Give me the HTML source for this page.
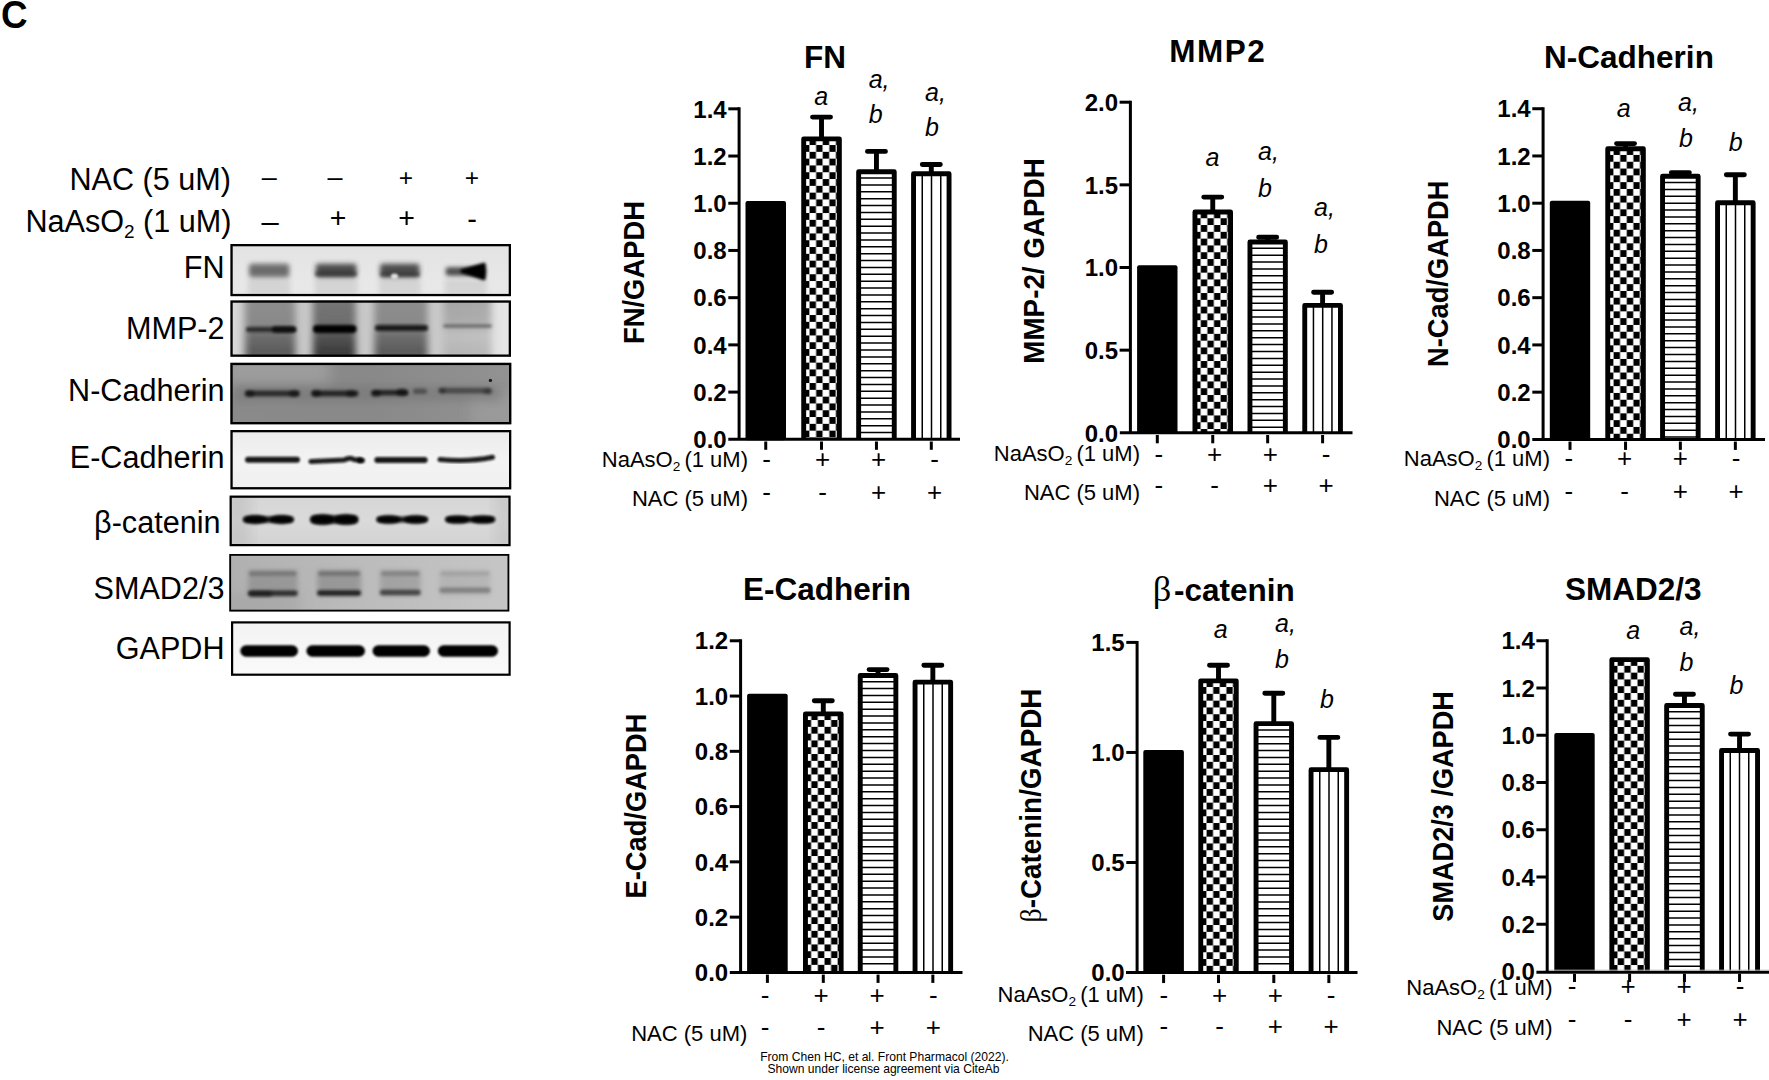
<!DOCTYPE html>
<html lang="en"><head><meta charset="utf-8"><title>Figure C</title>
<style>html,body{margin:0;padding:0;background:#fff;}body{width:1769px;height:1080px;overflow:hidden;}svg{display:block;font-family:"Liberation Sans", sans-serif;fill:#000;}text{fill:#000;}</style>
</head><body>
<svg width="1769" height="1080" viewBox="0 0 1769 1080">
<defs>
<pattern id="chk" width="13.2" height="13.6" patternUnits="userSpaceOnUse"><rect width="13.2" height="13.6" fill="#fff"/><rect x="3.4" y="6.8" width="6.4" height="6.8" fill="#000"/><rect x="-3.2" y="0" width="6.4" height="6.8" fill="#000"/><rect x="10" y="0" width="6.4" height="6.8" fill="#000"/></pattern>
<filter id="b1" x="-30%" y="-100%" width="160%" height="300%"><feGaussianBlur stdDeviation="0.6"/></filter>
<filter id="b15" x="-30%" y="-100%" width="160%" height="300%"><feGaussianBlur stdDeviation="1.2"/></filter>
<filter id="b2" x="-30%" y="-100%" width="160%" height="300%"><feGaussianBlur stdDeviation="1.6"/></filter>
<filter id="b25" x="-30%" y="-100%" width="160%" height="300%"><feGaussianBlur stdDeviation="2.1"/></filter>
<filter id="b3" x="-30%" y="-100%" width="160%" height="300%"><feGaussianBlur stdDeviation="2.6"/></filter>
<filter id="b4" x="-30%" y="-100%" width="160%" height="300%"><feGaussianBlur stdDeviation="4"/></filter>
<filter id="b6" x="-30%" y="-100%" width="160%" height="300%"><feGaussianBlur stdDeviation="7"/></filter>
<filter id="bh" x="-30%" y="-100%" width="160%" height="300%"><feGaussianBlur stdDeviation="3.5 2"/></filter>
<linearGradient id="bgFN" x1="0" y1="0" x2="0" y2="1"><stop offset="0" stop-color="#e3e3e3"/><stop offset="1" stop-color="#e9e9e9"/></linearGradient>
<linearGradient id="lnA" x1="0" y1="0" x2="0" y2="1"><stop offset="0" stop-color="#8c8c8c"/><stop offset="0.45" stop-color="#858585"/><stop offset="0.6" stop-color="#6a6a6a"/><stop offset="0.85" stop-color="#555"/><stop offset="1" stop-color="#666"/></linearGradient>
<linearGradient id="lnB" x1="0" y1="0" x2="0" y2="1"><stop offset="0" stop-color="#777"/><stop offset="0.45" stop-color="#6c6c6c"/><stop offset="0.6" stop-color="#555"/><stop offset="0.85" stop-color="#3c3c3c"/><stop offset="1" stop-color="#4a4a4a"/></linearGradient>
<linearGradient id="lnC" x1="0" y1="0" x2="0" y2="1"><stop offset="0" stop-color="#999"/><stop offset="0.4" stop-color="#a5a5a5"/><stop offset="0.6" stop-color="#bbb"/><stop offset="0.85" stop-color="#b0b0b0"/><stop offset="1" stop-color="#b8b8b8"/></linearGradient>
<linearGradient id="bgMMP" x1="0" y1="0" x2="1" y2="0"><stop offset="0" stop-color="#dcdcdc"/><stop offset="0.06" stop-color="#c6c6c6"/><stop offset="0.8" stop-color="#cacaca"/><stop offset="0.95" stop-color="#e2e2e2"/><stop offset="1" stop-color="#e8e8e8"/></linearGradient>
<linearGradient id="bgNC" x1="0" y1="0" x2="1" y2="0"><stop offset="0" stop-color="#8a8a8a"/><stop offset="0.5" stop-color="#898989"/><stop offset="1" stop-color="#929292"/></linearGradient>
<linearGradient id="bgEC" x1="0" y1="0" x2="0" y2="1"><stop offset="0" stop-color="#ebebeb"/><stop offset="0.5" stop-color="#f3f3f3"/><stop offset="1" stop-color="#f0f0f0"/></linearGradient>
<linearGradient id="bgBC" x1="0" y1="0" x2="0" y2="1"><stop offset="0" stop-color="#d6d6d6"/><stop offset="0.5" stop-color="#dadada"/><stop offset="1" stop-color="#d2d2d2"/></linearGradient>
<linearGradient id="bgSM" x1="0" y1="0" x2="1" y2="0"><stop offset="0" stop-color="#b0b0b0"/><stop offset="0.5" stop-color="#bcbcbc"/><stop offset="1" stop-color="#c6c6c6"/></linearGradient>
<linearGradient id="bgGA" x1="0" y1="0" x2="0" y2="1"><stop offset="0" stop-color="#f3f3f3"/><stop offset="1" stop-color="#fafafa"/></linearGradient>
</defs>
<rect width="1769" height="1080" fill="#fff"/>
<text transform="translate(1.1 27.6) scale(0.96 1)" font-size="38.3" font-weight="bold">C</text>
<g id="blot-labels" font-size="30.6">
<text x="231" y="189.6" text-anchor="end">NAC (5 uM)</text>
<text x="231.5" y="231.5" font-size="30.6" text-anchor="end">NaAsO<tspan font-size="18.97" dy="6.12">2</tspan><tspan dy="-6.12" dx="-0"> (1 uM)</tspan></text>
<text x="224.5" y="277.8" text-anchor="end">FN</text>
<text x="224.5" y="339" text-anchor="end">MMP-2</text>
<text x="224.5" y="401" text-anchor="end">N-Cadherin</text>
<text x="224.5" y="468.2" text-anchor="end">E-Cadherin</text>
<text x="224.5" y="598.5" text-anchor="end">SMAD2/3</text>
<text x="224.5" y="658.9" text-anchor="end">GAPDH</text>
<text x="220.5" y="532.7" text-anchor="end">β-catenin</text>
</g>
<g id="blot-signs" text-anchor="middle">
<text x="269.2" y="186.2" font-size="27">–</text>
<text x="335" y="186.2" font-size="27">–</text>
<text x="406" y="185.6" font-size="24.5">+</text>
<text x="471.9" y="185.6" font-size="24.5">+</text>
<text x="270.2" y="231.7" font-size="31">–</text>
<text x="338" y="227.4" font-size="28.5">+</text>
<text x="406.5" y="227.4" font-size="28.5">+</text>
<text x="472" y="229.3" font-size="29">-</text>
</g>
<g id="blot1">
<clipPath id="bc1"><rect x="230.4" y="244" width="280.6" height="52.2"/></clipPath>
<rect x="230.4" y="244" width="280.6" height="52.2" fill="url(#bgFN)"/>
<g clip-path="url(#bc1)">
<rect x="248" y="279" width="42.3" height="17" fill="#888" opacity="0.2" filter="url(#b3)"/>
<rect x="249" y="263.75" width="40.3" height="13.5" rx="3" fill="#4a4a4a" opacity="0.78" filter="url(#b3)"/>
<rect x="314.7" y="279" width="42.8" height="17" fill="#888" opacity="0.2" filter="url(#b3)"/>
<rect x="315.7" y="263.75" width="40.8" height="13.5" rx="3" fill="#333" opacity="0.85" filter="url(#b3)"/>
<rect x="379" y="279" width="41.5" height="17" fill="#888" opacity="0.2" filter="url(#b3)"/>
<rect x="380" y="263.75" width="39.5" height="13.5" rx="3" fill="#333" opacity="0.85" filter="url(#b3)"/>
<rect x="444.6" y="279" width="41.9" height="17" fill="#888" opacity="0.2" filter="url(#b3)"/>
<rect x="445.6" y="267.35" width="39.9" height="8.5" rx="3" fill="#2c2c2c" opacity="0.82" filter="url(#b25)"/>
<rect x="315" y="271.5" width="42" height="5" rx="2.5" fill="#222" opacity="0.5" filter="url(#b2)"/>
<rect x="380" y="272" width="40" height="5" rx="2.5" fill="#222" opacity="0.45" filter="url(#b2)"/>
<ellipse cx="394.5" cy="276.3" rx="3.6" ry="2.8" fill="#eee" opacity="0.9" filter="url(#b15)"/>
<path d="M462 271L484 264.5V278.5Z" fill="#000" stroke="#000" stroke-width="3.5" stroke-linejoin="round" filter="url(#b2)"/>
</g>
<rect x="231.55" y="245.15" width="278.3" height="49.9" fill="none" stroke="#000" stroke-width="2.3"/>
</g>
<g id="blot2">
<clipPath id="bc2"><rect x="230.4" y="300.4" width="280.6" height="56.4"/></clipPath>
<rect x="230.4" y="300.4" width="280.6" height="56.4" fill="url(#bgMMP)"/>
<g clip-path="url(#bc2)">
<rect x="245.3" y="296" width="50.1" height="66" fill="url(#lnA)" opacity="0.95" filter="url(#bh)"/>
<rect x="312.9" y="296" width="42.8" height="66" fill="url(#lnB)" opacity="1" filter="url(#bh)"/>
<rect x="374.3" y="296" width="53.3" height="66" fill="url(#lnA)" opacity="0.95" filter="url(#bh)"/>
<rect x="443.5" y="296" width="47.5" height="66" fill="url(#lnC)" opacity="0.8" filter="url(#bh)"/>
<rect x="246" y="326.9" width="50" height="5" rx="2.5" fill="#1a1a1a" opacity="0.85" filter="url(#b2)"/>
<rect x="272" y="326.35" width="24" height="6.5" rx="3.25" fill="#000" opacity="0.7" filter="url(#b2)"/>
<rect x="313" y="325" width="43.5" height="8" rx="4" fill="#000" opacity="1" filter="url(#b2)"/>
<rect x="375" y="325" width="53" height="6" rx="3" fill="#0a0a0a" opacity="0.9" filter="url(#b2)"/>
<rect x="443" y="324.25" width="49" height="3.5" rx="1.75" fill="#555" opacity="0.75" filter="url(#b2)"/>
</g>
<rect x="231.55" y="301.55" width="278.3" height="54.1" fill="none" stroke="#000" stroke-width="2.3"/>
</g>
<g id="blot3">
<clipPath id="bc3"><rect x="230.4" y="362.8" width="280.9" height="61.5"/></clipPath>
<rect x="230.4" y="362.8" width="280.9" height="61.5" fill="url(#bgNC)"/>
<g clip-path="url(#bc3)">
<rect x="225" y="355" width="105" height="30" fill="#b5b5b5" opacity="0.45" filter="url(#b6)"/>
<rect x="470" y="395" width="50" height="35" fill="#a8a8a8" opacity="0.4" filter="url(#b6)"/>
<rect x="236" y="386" width="264" height="15" fill="#666" opacity="0.35" filter="url(#b4)"/>
<rect x="245.5" y="390.6" width="54.2" height="5.6" rx="2.8" fill="#151515" opacity="0.8" filter="url(#b2)"/>
<rect x="311.9" y="390.6" width="46.4" height="5.6" rx="2.8" fill="#151515" opacity="0.85" filter="url(#b2)"/>
<rect x="371.6" y="390" width="36.7" height="5.6" rx="2.8" fill="#151515" opacity="0.85" filter="url(#b2)"/>
<rect x="413" y="388.5" width="14" height="5.6" rx="2.8" fill="#333" opacity="0.6" filter="url(#b2)"/>
<rect x="439" y="387.8" width="52.3" height="5.6" rx="2.8" fill="#2a2a2a" opacity="0.62" filter="url(#b2)"/>
<ellipse cx="249.5" cy="393.6" rx="4.8" ry="3.2" fill="#000" opacity="0.48" filter="url(#b2)"/>
<ellipse cx="294" cy="393.6" rx="5.1" ry="3.4" fill="#000" opacity="0.45" filter="url(#b2)"/>
<ellipse cx="316" cy="393.4" rx="5.1" ry="3.4" fill="#000" opacity="0.48" filter="url(#b2)"/>
<ellipse cx="351" cy="393.6" rx="5.1" ry="3.4" fill="#000" opacity="0.42" filter="url(#b2)"/>
<ellipse cx="376" cy="393.6" rx="4.8" ry="3.2" fill="#000" opacity="0.48" filter="url(#b2)"/>
<ellipse cx="402" cy="392.4" rx="5.7" ry="3.8" fill="#000" opacity="0.51" filter="url(#b2)"/>
<ellipse cx="442" cy="390.6" rx="3.9" ry="2.6" fill="#000" opacity="0.3" filter="url(#b2)"/>
<ellipse cx="488" cy="391.5" rx="4.5" ry="3" fill="#000" opacity="0.27" filter="url(#b2)"/>
<circle cx="490.4" cy="380.4" r="1.7" fill="#1a1a1a" filter="url(#b1)"/>
</g>
<rect x="231.55" y="363.95" width="278.6" height="59.2" fill="none" stroke="#000" stroke-width="2.3"/>
</g>
<g id="blot4">
<clipPath id="bc4"><rect x="230.4" y="430" width="280.9" height="59.4"/></clipPath>
<rect x="230.4" y="430" width="280.9" height="59.4" fill="url(#bgEC)"/>
<g clip-path="url(#bc4)">
<rect x="245" y="456.7" width="55" height="6" rx="3" fill="#111" opacity="0.95" filter="url(#b15)"/>
<path d="M311 461.6L344 460Q350.5 456.6 354 459.6L362.5 460.4" fill="none" stroke="#111" stroke-width="5" stroke-linecap="round" opacity="0.93" filter="url(#b15)"/>
<circle cx="360" cy="460.3" r="3" fill="#000" opacity="0.8" filter="url(#b15)"/>
<rect x="374.3" y="457" width="53.4" height="6" rx="3" fill="#111" opacity="0.95" filter="url(#b15)"/>
<path d="M440 459.4Q468 462.2 492.5 457.2" fill="none" stroke="#111" stroke-width="5" stroke-linecap="round" opacity="0.93" filter="url(#b15)"/>
</g>
<rect x="231.55" y="431.15" width="278.6" height="57.1" fill="none" stroke="#000" stroke-width="2.3"/>
</g>
<g id="blot5">
<clipPath id="bc5"><rect x="229.6" y="495.6" width="281" height="50.6"/></clipPath>
<rect x="229.6" y="495.6" width="281" height="50.6" fill="url(#bgBC)"/>
<g clip-path="url(#bc5)">
<rect x="225" y="490" width="25" height="60" fill="#aaa" opacity="0.35" filter="url(#b6)"/>
<rect x="495" y="490" width="20" height="60" fill="#aaa" opacity="0.3" filter="url(#b6)"/>
<rect x="243.4" y="516.6" width="50.1" height="5.8" rx="2.9" fill="#0c0c0c" opacity="0.95" filter="url(#b2)"/>
<ellipse cx="255.4" cy="519.5" rx="12" ry="4.4" fill="#050505" opacity="0.9" filter="url(#b2)"/>
<ellipse cx="281.5" cy="519.5" rx="12" ry="4.4" fill="#050505" opacity="0.9" filter="url(#b2)"/>
<rect x="310.5" y="515.4" width="47.5" height="8.2" rx="4.1" fill="#0c0c0c" opacity="0.95" filter="url(#b2)"/>
<ellipse cx="322.5" cy="519.5" rx="12" ry="5.3" fill="#050505" opacity="0.9" filter="url(#b2)"/>
<ellipse cx="346" cy="519.5" rx="12" ry="5.3" fill="#050505" opacity="0.9" filter="url(#b2)"/>
<rect x="376.7" y="516.7" width="51" height="5.6" rx="2.8" fill="#0c0c0c" opacity="0.95" filter="url(#b2)"/>
<ellipse cx="388.7" cy="519.5" rx="12" ry="4.2" fill="#050505" opacity="0.9" filter="url(#b2)"/>
<ellipse cx="415.7" cy="519.5" rx="12" ry="4.2" fill="#050505" opacity="0.9" filter="url(#b2)"/>
<rect x="445.5" y="516.8" width="49.3" height="5.4" rx="2.7" fill="#0c0c0c" opacity="0.95" filter="url(#b2)"/>
<ellipse cx="457.5" cy="519.5" rx="12" ry="4.1" fill="#050505" opacity="0.9" filter="url(#b2)"/>
<ellipse cx="482.8" cy="519.5" rx="12" ry="4.1" fill="#050505" opacity="0.9" filter="url(#b2)"/>
</g>
<rect x="230.7" y="496.7" width="278.8" height="48.4" fill="none" stroke="#000" stroke-width="2.2"/>
</g>
<g id="blot6">
<clipPath id="bc6"><rect x="229.3" y="554" width="280" height="57.5"/></clipPath>
<rect x="229.3" y="554" width="280" height="57.5" fill="url(#bgSM)"/>
<g clip-path="url(#bc6)">
<rect x="225" y="595" width="75" height="20" fill="#999" opacity="0.4" filter="url(#b6)"/>
<rect x="248" y="570" width="49.6" height="26" fill="#7a7a7a" opacity="0.47" filter="url(#b3)"/>
<rect x="249" y="571" width="47.6" height="5" rx="2.5" fill="#555" opacity="0.47" filter="url(#b2)"/>
<rect x="248" y="590.45" width="49.6" height="5.5" rx="2.75" fill="#1c1c1c" opacity="0.85" filter="url(#b2)"/>
<rect x="317.2" y="570" width="43.8" height="26" fill="#7a7a7a" opacity="0.52" filter="url(#b3)"/>
<rect x="318.2" y="571" width="41.8" height="5" rx="2.5" fill="#555" opacity="0.52" filter="url(#b2)"/>
<rect x="317.2" y="590.25" width="43.8" height="5.5" rx="2.75" fill="#1c1c1c" opacity="0.95" filter="url(#b2)"/>
<rect x="379.9" y="570" width="40.7" height="26" fill="#7a7a7a" opacity="0.39" filter="url(#b3)"/>
<rect x="380.9" y="571" width="38.7" height="5" rx="2.5" fill="#555" opacity="0.39" filter="url(#b2)"/>
<rect x="379.9" y="589.65" width="40.7" height="5.5" rx="2.75" fill="#1c1c1c" opacity="0.7" filter="url(#b2)"/>
<rect x="439.3" y="570" width="51.3" height="26" fill="#7a7a7a" opacity="0.18" filter="url(#b3)"/>
<rect x="440.3" y="571" width="49.3" height="5" rx="2.5" fill="#555" opacity="0.18" filter="url(#b2)"/>
<rect x="439.3" y="587.55" width="51.3" height="5.5" rx="2.75" fill="#1c1c1c" opacity="0.33" filter="url(#b2)"/>
<rect x="249" y="591.25" width="23" height="5.5" rx="2.75" fill="#111" opacity="0.5" filter="url(#b2)"/>
</g>
<rect x="230.2" y="554.9" width="278.2" height="55.7" fill="none" stroke="#000" stroke-width="1.8"/>
</g>
<g id="blot7">
<clipPath id="bc7"><rect x="231" y="621.3" width="279.7" height="54.5"/></clipPath>
<rect x="231" y="621.3" width="279.7" height="54.5" fill="url(#bgGA)"/>
<g clip-path="url(#bc7)">
<rect x="240.3" y="645.25" width="57.7" height="11.5" rx="5.75" fill="#000" opacity="1" filter="url(#b15)"/>
<rect x="306.4" y="645.25" width="58.6" height="11.5" rx="5.75" fill="#000" opacity="1" filter="url(#b15)"/>
<rect x="372.5" y="645.25" width="57.5" height="11.5" rx="5.75" fill="#000" opacity="1" filter="url(#b15)"/>
<rect x="437.8" y="645.25" width="60.2" height="11.5" rx="5.75" fill="#000" opacity="1" filter="url(#b15)"/>
</g>
<rect x="232.1" y="622.4" width="277.5" height="52.3" fill="none" stroke="#000" stroke-width="2.2"/>
</g>
<g id="fn">
<rect x="745.5" y="200.9" width="40.5" height="239.4" rx="2" fill="#000"/>
<path d="M765.75 441.5V449.8" stroke="#000" stroke-width="3" fill="none"/>
<g transform="translate(806.15 145.05)"><rect x="-2.45" y="-6.2" width="35.65" height="300.45" fill="url(#chk)"/></g>
<path d="M803.7 439.3V138.85H839.35V439.3" fill="none" stroke="#000" stroke-width="4.9" stroke-linejoin="round"/>
<path d="M821.52 137.4V117.1M812.52 117.1H830.52" fill="none" stroke="#000" stroke-width="4.9" stroke-linecap="round"/>
<path d="M821.52 441.5V449.8" stroke="#000" stroke-width="3" fill="none"/>
<path d="M860.1 178H892.8M860.1 184.88H892.8M860.1 191.76H892.8M860.1 198.64H892.8M860.1 205.52H892.8M860.1 212.4H892.8M860.1 219.28H892.8M860.1 226.16H892.8M860.1 233.04H892.8M860.1 239.92H892.8M860.1 246.8H892.8M860.1 253.68H892.8M860.1 260.56H892.8M860.1 267.44H892.8M860.1 274.32H892.8M860.1 281.2H892.8M860.1 288.08H892.8M860.1 294.96H892.8M860.1 301.84H892.8M860.1 308.72H892.8M860.1 315.6H892.8M860.1 322.48H892.8M860.1 329.36H892.8M860.1 336.24H892.8M860.1 343.12H892.8M860.1 350H892.8M860.1 356.88H892.8M860.1 363.76H892.8M860.1 370.64H892.8M860.1 377.52H892.8M860.1 384.4H892.8M860.1 391.28H892.8M860.1 398.16H892.8M860.1 405.04H892.8M860.1 411.92H892.8M860.1 418.8H892.8M860.1 425.68H892.8M860.1 432.56H892.8" stroke="#000" stroke-width="1.5" fill="none"/>
<path d="M858.65 439.3V171.75H894.25V439.3" fill="none" stroke="#000" stroke-width="4.9" stroke-linejoin="round"/>
<path d="M876.45 170.3V151.4M867.45 151.4H885.45" fill="none" stroke="#000" stroke-width="4.9" stroke-linecap="round"/>
<path d="M876.45 441.5V449.8" stroke="#000" stroke-width="3" fill="none"/>
<path d="M922.25 175.2V439.3M931.5 175.2V439.3M940.75 175.2V439.3" stroke="#000" stroke-width="1.5" fill="none"/>
<path d="M913.55 439.3V173.75H949.05V439.3" fill="none" stroke="#000" stroke-width="4.9" stroke-linejoin="round"/>
<path d="M931.3 172.3V164.5M922.3 164.5H940.3" fill="none" stroke="#000" stroke-width="4.9" stroke-linecap="round"/>
<path d="M931.3 441.5V449.8" stroke="#000" stroke-width="3" fill="none"/>
<path d="M739.1 107.33V439.3" stroke="#000" stroke-width="3" fill="none"/>
<path d="M728.3 439.3H960" stroke="#000" stroke-width="3" fill="none"/>
<text x="726.7" y="448" font-size="24" font-weight="bold" text-anchor="end">0.0</text>
<path d="M728.3 392.09H739.1" stroke="#000" stroke-width="3" fill="none"/>
<text x="726.7" y="400.79" font-size="24" font-weight="bold" text-anchor="end">0.2</text>
<path d="M728.3 344.88H739.1" stroke="#000" stroke-width="3" fill="none"/>
<text x="726.7" y="353.58" font-size="24" font-weight="bold" text-anchor="end">0.4</text>
<path d="M728.3 297.67H739.1" stroke="#000" stroke-width="3" fill="none"/>
<text x="726.7" y="306.37" font-size="24" font-weight="bold" text-anchor="end">0.6</text>
<path d="M728.3 250.46H739.1" stroke="#000" stroke-width="3" fill="none"/>
<text x="726.7" y="259.16" font-size="24" font-weight="bold" text-anchor="end">0.8</text>
<path d="M728.3 203.25H739.1" stroke="#000" stroke-width="3" fill="none"/>
<text x="726.7" y="211.95" font-size="24" font-weight="bold" text-anchor="end">1.0</text>
<path d="M728.3 156.04H739.1" stroke="#000" stroke-width="3" fill="none"/>
<text x="726.7" y="164.74" font-size="24" font-weight="bold" text-anchor="end">1.2</text>
<path d="M728.3 108.83H739.1" stroke="#000" stroke-width="3" fill="none"/>
<text x="726.7" y="117.53" font-size="24" font-weight="bold" text-anchor="end">1.4</text>
<text x="766.7" y="468.1" font-size="26" text-anchor="middle">-</text>
<text x="822.7" y="468.1" font-size="26" text-anchor="middle">+</text>
<text x="878.7" y="468.1" font-size="26" text-anchor="middle">+</text>
<text x="934.7" y="468.1" font-size="26" text-anchor="middle">-</text>
<text x="766.7" y="500.8" font-size="26" text-anchor="middle">-</text>
<text x="822.7" y="500.8" font-size="26" text-anchor="middle">-</text>
<text x="878.7" y="500.8" font-size="26" text-anchor="middle">+</text>
<text x="934.7" y="500.8" font-size="26" text-anchor="middle">+</text>
<text x="748" y="467" font-size="22" text-anchor="end">NaAsO<tspan font-size="13.64" dy="4.4">2</tspan><tspan dy="-4.4" dx="-1.98"> (1 uM)</tspan></text>
<text x="748" y="506" font-size="22" text-anchor="end">NAC (5 uM)</text>
<text x="825" y="68" font-size="31.5" font-weight="bold" text-anchor="middle">FN</text>
<text transform="translate(644 272.5) rotate(-90)" font-size="29" font-weight="bold" text-anchor="middle" textLength="143" lengthAdjust="spacingAndGlyphs">FN/GAPDH</text>
<text x="814.2" y="104.5" font-size="25" font-style="italic">a</text>
<text x="868.7" y="87.5" font-size="25" font-style="italic">a,</text>
<text x="868.7" y="123" font-size="25" font-style="italic">b</text>
<text x="925" y="100.5" font-size="25" font-style="italic">a,</text>
<text x="925" y="136" font-size="25" font-style="italic">b</text>
</g>
<g id="mmp">
<rect x="1137.1" y="265.2" width="40.4" height="168.6" rx="2" fill="#000"/>
<path d="M1157.3 435V443.3" stroke="#000" stroke-width="3" fill="none"/>
<g transform="translate(1197.4 218.25)"><rect x="-2.45" y="-6.2" width="35.6" height="220.75" fill="url(#chk)"/></g>
<path d="M1194.95 432.8V212.05H1230.55V432.8" fill="none" stroke="#000" stroke-width="4.9" stroke-linejoin="round"/>
<path d="M1212.75 210.6V197.1M1203.75 197.1H1221.75" fill="none" stroke="#000" stroke-width="4.9" stroke-linecap="round"/>
<path d="M1212.75 435V443.3" stroke="#000" stroke-width="3" fill="none"/>
<path d="M1251.4 248.3H1283.9M1251.4 255.18H1283.9M1251.4 262.06H1283.9M1251.4 268.94H1283.9M1251.4 275.82H1283.9M1251.4 282.7H1283.9M1251.4 289.58H1283.9M1251.4 296.46H1283.9M1251.4 303.34H1283.9M1251.4 310.22H1283.9M1251.4 317.1H1283.9M1251.4 323.98H1283.9M1251.4 330.86H1283.9M1251.4 337.74H1283.9M1251.4 344.62H1283.9M1251.4 351.5H1283.9M1251.4 358.38H1283.9M1251.4 365.26H1283.9M1251.4 372.14H1283.9M1251.4 379.02H1283.9M1251.4 385.9H1283.9M1251.4 392.78H1283.9M1251.4 399.66H1283.9M1251.4 406.54H1283.9M1251.4 413.42H1283.9M1251.4 420.3H1283.9M1251.4 427.18H1283.9" stroke="#000" stroke-width="1.5" fill="none"/>
<path d="M1249.95 432.8V242.05H1285.35V432.8" fill="none" stroke="#000" stroke-width="4.9" stroke-linejoin="round"/>
<path d="M1267.65 240.6V237.2M1258.65 237.2H1276.65" fill="none" stroke="#000" stroke-width="4.9" stroke-linecap="round"/>
<path d="M1267.65 435V443.3" stroke="#000" stroke-width="3" fill="none"/>
<path d="M1313.45 306.8V432.8M1322.7 306.8V432.8M1331.95 306.8V432.8" stroke="#000" stroke-width="1.5" fill="none"/>
<path d="M1304.75 432.8V305.35H1340.45V432.8" fill="none" stroke="#000" stroke-width="4.9" stroke-linejoin="round"/>
<path d="M1322.6 303.9V292.3M1313.6 292.3H1331.6" fill="none" stroke="#000" stroke-width="4.9" stroke-linecap="round"/>
<path d="M1322.6 435V443.3" stroke="#000" stroke-width="3" fill="none"/>
<path d="M1130.4 100.7V432.8" stroke="#000" stroke-width="3" fill="none"/>
<path d="M1119.8 432.8H1352.5" stroke="#000" stroke-width="3" fill="none"/>
<text x="1118" y="441.5" font-size="24" font-weight="bold" text-anchor="end">0.0</text>
<path d="M1119.6 350.15H1130.4" stroke="#000" stroke-width="3" fill="none"/>
<text x="1118" y="358.85" font-size="24" font-weight="bold" text-anchor="end">0.5</text>
<path d="M1119.6 267.5H1130.4" stroke="#000" stroke-width="3" fill="none"/>
<text x="1118" y="276.2" font-size="24" font-weight="bold" text-anchor="end">1.0</text>
<path d="M1119.6 184.85H1130.4" stroke="#000" stroke-width="3" fill="none"/>
<text x="1118" y="193.55" font-size="24" font-weight="bold" text-anchor="end">1.5</text>
<path d="M1119.6 102.2H1130.4" stroke="#000" stroke-width="3" fill="none"/>
<text x="1118" y="110.9" font-size="24" font-weight="bold" text-anchor="end">2.0</text>
<text x="1158.75" y="462.95" font-size="26" text-anchor="middle">-</text>
<text x="1214.55" y="462.95" font-size="26" text-anchor="middle">+</text>
<text x="1270.35" y="462.95" font-size="26" text-anchor="middle">+</text>
<text x="1326.15" y="462.95" font-size="26" text-anchor="middle">-</text>
<text x="1158.75" y="494.2" font-size="26" text-anchor="middle">-</text>
<text x="1214.55" y="494.2" font-size="26" text-anchor="middle">-</text>
<text x="1270.35" y="494.2" font-size="26" text-anchor="middle">+</text>
<text x="1326.15" y="494.2" font-size="26" text-anchor="middle">+</text>
<text x="1140" y="460.5" font-size="22" text-anchor="end">NaAsO<tspan font-size="13.64" dy="4.4">2</tspan><tspan dy="-4.4" dx="-1.98"> (1 uM)</tspan></text>
<text x="1140" y="500" font-size="22" text-anchor="end">NAC (5 uM)</text>
<text x="1217.75" y="61.8" font-size="31.5" font-weight="bold" text-anchor="middle" letter-spacing="1.5">MMP2</text>
<text transform="translate(1043.8 261) rotate(-90)" font-size="29" font-weight="bold" text-anchor="middle" textLength="205.5" lengthAdjust="spacingAndGlyphs">MMP-2/ GAPDH</text>
<text x="1205.5" y="166" font-size="25" font-style="italic">a</text>
<text x="1258" y="160" font-size="25" font-style="italic">a,</text>
<text x="1258" y="197" font-size="25" font-style="italic">b</text>
<text x="1314" y="216" font-size="25" font-style="italic">a,</text>
<text x="1314" y="252.5" font-size="25" font-style="italic">b</text>
</g>
<g id="ncad">
<rect x="1549.8" y="200.8" width="40.4" height="239.6" rx="2" fill="#000"/>
<path d="M1570 441.6V449.9" stroke="#000" stroke-width="3" fill="none"/>
<g transform="translate(1610.2 154.95)"><rect x="-2.45" y="-6.2" width="35.6" height="290.65" fill="url(#chk)"/></g>
<path d="M1607.75 439.4V148.75H1643.35V439.4" fill="none" stroke="#000" stroke-width="4.9" stroke-linejoin="round"/>
<path d="M1625.55 147.3V143.6M1616.55 143.6H1634.55" fill="none" stroke="#000" stroke-width="4.9" stroke-linecap="round"/>
<path d="M1625.55 441.6V449.9" stroke="#000" stroke-width="3" fill="none"/>
<path d="M1664 182.5H1696.7M1664 189.38H1696.7M1664 196.26H1696.7M1664 203.14H1696.7M1664 210.02H1696.7M1664 216.9H1696.7M1664 223.78H1696.7M1664 230.66H1696.7M1664 237.54H1696.7M1664 244.42H1696.7M1664 251.3H1696.7M1664 258.18H1696.7M1664 265.06H1696.7M1664 271.94H1696.7M1664 278.82H1696.7M1664 285.7H1696.7M1664 292.58H1696.7M1664 299.46H1696.7M1664 306.34H1696.7M1664 313.22H1696.7M1664 320.1H1696.7M1664 326.98H1696.7M1664 333.86H1696.7M1664 340.74H1696.7M1664 347.62H1696.7M1664 354.5H1696.7M1664 361.38H1696.7M1664 368.26H1696.7M1664 375.14H1696.7M1664 382.02H1696.7M1664 388.9H1696.7M1664 395.78H1696.7M1664 402.66H1696.7M1664 409.54H1696.7M1664 416.42H1696.7M1664 423.3H1696.7M1664 430.18H1696.7M1664 437.06H1696.7" stroke="#000" stroke-width="1.5" fill="none"/>
<path d="M1662.55 439.4V176.25H1698.15V439.4" fill="none" stroke="#000" stroke-width="4.9" stroke-linejoin="round"/>
<path d="M1680.35 174.8V172.6M1671.35 172.6H1689.35" fill="none" stroke="#000" stroke-width="4.9" stroke-linecap="round"/>
<path d="M1680.35 441.6V449.9" stroke="#000" stroke-width="3" fill="none"/>
<path d="M1726.25 204.2V439.4M1735.5 204.2V439.4M1744.75 204.2V439.4" stroke="#000" stroke-width="1.5" fill="none"/>
<path d="M1717.55 439.4V202.75H1753.15V439.4" fill="none" stroke="#000" stroke-width="4.9" stroke-linejoin="round"/>
<path d="M1735.35 201.3V174.8M1726.35 174.8H1744.35" fill="none" stroke="#000" stroke-width="4.9" stroke-linecap="round"/>
<path d="M1735.35 441.6V449.9" stroke="#000" stroke-width="3" fill="none"/>
<path d="M1543.1 107.22V439.4" stroke="#000" stroke-width="3" fill="none"/>
<path d="M1532.3 439.4H1765" stroke="#000" stroke-width="3" fill="none"/>
<text x="1530.7" y="448.1" font-size="24" font-weight="bold" text-anchor="end">0.0</text>
<path d="M1532.3 392.16H1543.1" stroke="#000" stroke-width="3" fill="none"/>
<text x="1530.7" y="400.86" font-size="24" font-weight="bold" text-anchor="end">0.2</text>
<path d="M1532.3 344.92H1543.1" stroke="#000" stroke-width="3" fill="none"/>
<text x="1530.7" y="353.62" font-size="24" font-weight="bold" text-anchor="end">0.4</text>
<path d="M1532.3 297.68H1543.1" stroke="#000" stroke-width="3" fill="none"/>
<text x="1530.7" y="306.38" font-size="24" font-weight="bold" text-anchor="end">0.6</text>
<path d="M1532.3 250.44H1543.1" stroke="#000" stroke-width="3" fill="none"/>
<text x="1530.7" y="259.14" font-size="24" font-weight="bold" text-anchor="end">0.8</text>
<path d="M1532.3 203.2H1543.1" stroke="#000" stroke-width="3" fill="none"/>
<text x="1530.7" y="211.9" font-size="24" font-weight="bold" text-anchor="end">1.0</text>
<path d="M1532.3 155.96H1543.1" stroke="#000" stroke-width="3" fill="none"/>
<text x="1530.7" y="164.66" font-size="24" font-weight="bold" text-anchor="end">1.2</text>
<path d="M1532.3 108.72H1543.1" stroke="#000" stroke-width="3" fill="none"/>
<text x="1530.7" y="117.42" font-size="24" font-weight="bold" text-anchor="end">1.4</text>
<text x="1568.75" y="467.2" font-size="26" text-anchor="middle">-</text>
<text x="1624.55" y="467.2" font-size="26" text-anchor="middle">+</text>
<text x="1680.35" y="467.2" font-size="26" text-anchor="middle">+</text>
<text x="1736.15" y="467.2" font-size="26" text-anchor="middle">-</text>
<text x="1568.75" y="500.45" font-size="26" text-anchor="middle">-</text>
<text x="1624.55" y="500.45" font-size="26" text-anchor="middle">-</text>
<text x="1680.35" y="500.45" font-size="26" text-anchor="middle">+</text>
<text x="1736.15" y="500.45" font-size="26" text-anchor="middle">+</text>
<text x="1550" y="465.5" font-size="22" text-anchor="end">NaAsO<tspan font-size="13.64" dy="4.4">2</tspan><tspan dy="-4.4" dx="-1.98"> (1 uM)</tspan></text>
<text x="1550" y="506" font-size="22" text-anchor="end">NAC (5 uM)</text>
<text x="1629" y="68" font-size="31.5" font-weight="bold" text-anchor="middle">N-Cadherin</text>
<text transform="translate(1448 273.75) rotate(-90)" font-size="29" font-weight="bold" text-anchor="middle" textLength="186.5" lengthAdjust="spacingAndGlyphs">N-Cad/GAPDH</text>
<text x="1616.7" y="117" font-size="25" font-style="italic">a</text>
<text x="1678" y="110.5" font-size="25" font-style="italic">a,</text>
<text x="1679" y="147" font-size="25" font-style="italic">b</text>
<text x="1728.7" y="151" font-size="25" font-style="italic">b</text>
</g>
<g id="ecad">
<rect x="747.1" y="693.7" width="40.6" height="279.7" rx="2" fill="#000"/>
<path d="M767.4 974.6V982.9" stroke="#000" stroke-width="3" fill="none"/>
<g transform="translate(807.9 720.05)"><rect x="-2.45" y="-6.2" width="35.7" height="258.55" fill="url(#chk)"/></g>
<path d="M805.45 972.4V713.85H841.15V972.4" fill="none" stroke="#000" stroke-width="4.9" stroke-linejoin="round"/>
<path d="M823.3 712.4V700.8M814.3 700.8H832.3" fill="none" stroke="#000" stroke-width="4.9" stroke-linecap="round"/>
<path d="M823.3 974.6V982.9" stroke="#000" stroke-width="3" fill="none"/>
<path d="M861.7 681.7H894.4M861.7 688.58H894.4M861.7 695.46H894.4M861.7 702.34H894.4M861.7 709.22H894.4M861.7 716.1H894.4M861.7 722.98H894.4M861.7 729.86H894.4M861.7 736.74H894.4M861.7 743.62H894.4M861.7 750.5H894.4M861.7 757.38H894.4M861.7 764.26H894.4M861.7 771.14H894.4M861.7 778.02H894.4M861.7 784.9H894.4M861.7 791.78H894.4M861.7 798.66H894.4M861.7 805.54H894.4M861.7 812.42H894.4M861.7 819.3H894.4M861.7 826.18H894.4M861.7 833.06H894.4M861.7 839.94H894.4M861.7 846.82H894.4M861.7 853.7H894.4M861.7 860.58H894.4M861.7 867.46H894.4M861.7 874.34H894.4M861.7 881.22H894.4M861.7 888.1H894.4M861.7 894.98H894.4M861.7 901.86H894.4M861.7 908.74H894.4M861.7 915.62H894.4M861.7 922.5H894.4M861.7 929.38H894.4M861.7 936.26H894.4M861.7 943.14H894.4M861.7 950.02H894.4M861.7 956.9H894.4M861.7 963.78H894.4" stroke="#000" stroke-width="1.5" fill="none"/>
<path d="M860.25 972.4V675.45H895.85V972.4" fill="none" stroke="#000" stroke-width="4.9" stroke-linejoin="round"/>
<path d="M878.05 674V669.6M869.05 669.6H887.05" fill="none" stroke="#000" stroke-width="4.9" stroke-linecap="round"/>
<path d="M878.05 974.6V982.9" stroke="#000" stroke-width="3" fill="none"/>
<path d="M923.75 683.6V972.4M933 683.6V972.4M942.25 683.6V972.4" stroke="#000" stroke-width="1.5" fill="none"/>
<path d="M915.05 972.4V682.15H950.65V972.4" fill="none" stroke="#000" stroke-width="4.9" stroke-linejoin="round"/>
<path d="M932.85 680.7V665.3M923.85 665.3H941.85" fill="none" stroke="#000" stroke-width="4.9" stroke-linecap="round"/>
<path d="M932.85 974.6V982.9" stroke="#000" stroke-width="3" fill="none"/>
<path d="M740.6 639.28V972.4" stroke="#000" stroke-width="3" fill="none"/>
<path d="M729.8 972.4H962.5" stroke="#000" stroke-width="3" fill="none"/>
<text x="728.2" y="981.1" font-size="24" font-weight="bold" text-anchor="end">0.0</text>
<path d="M729.8 917.13H740.6" stroke="#000" stroke-width="3" fill="none"/>
<text x="728.2" y="925.83" font-size="24" font-weight="bold" text-anchor="end">0.2</text>
<path d="M729.8 861.86H740.6" stroke="#000" stroke-width="3" fill="none"/>
<text x="728.2" y="870.56" font-size="24" font-weight="bold" text-anchor="end">0.4</text>
<path d="M729.8 806.59H740.6" stroke="#000" stroke-width="3" fill="none"/>
<text x="728.2" y="815.29" font-size="24" font-weight="bold" text-anchor="end">0.6</text>
<path d="M729.8 751.32H740.6" stroke="#000" stroke-width="3" fill="none"/>
<text x="728.2" y="760.02" font-size="24" font-weight="bold" text-anchor="end">0.8</text>
<path d="M729.8 696.05H740.6" stroke="#000" stroke-width="3" fill="none"/>
<text x="728.2" y="704.75" font-size="24" font-weight="bold" text-anchor="end">1.0</text>
<path d="M729.8 640.78H740.6" stroke="#000" stroke-width="3" fill="none"/>
<text x="728.2" y="649.48" font-size="24" font-weight="bold" text-anchor="end">1.2</text>
<text x="765" y="1003.7" font-size="26" text-anchor="middle">-</text>
<text x="821.1" y="1003.7" font-size="26" text-anchor="middle">+</text>
<text x="877.2" y="1003.7" font-size="26" text-anchor="middle">+</text>
<text x="933.3" y="1003.7" font-size="26" text-anchor="middle">-</text>
<text x="765" y="1036.2" font-size="26" text-anchor="middle">-</text>
<text x="821.1" y="1036.2" font-size="26" text-anchor="middle">-</text>
<text x="877.2" y="1036.2" font-size="26" text-anchor="middle">+</text>
<text x="933.3" y="1036.2" font-size="26" text-anchor="middle">+</text>
<text x="747.3" y="1041" font-size="22" text-anchor="end">NAC (5 uM)</text>
<text x="827" y="600" font-size="31.5" font-weight="bold" text-anchor="middle">E-Cadherin</text>
<text transform="translate(645.5 806) rotate(-90)" font-size="29" font-weight="bold" text-anchor="middle" textLength="185" lengthAdjust="spacingAndGlyphs">E-Cad/GAPDH</text>
</g>
<g id="bcat">
<rect x="1143.3" y="750.1" width="40.6" height="223.45" rx="2" fill="#000"/>
<path d="M1163.6 974.75V983.05" stroke="#000" stroke-width="3" fill="none"/>
<g transform="translate(1203.2 687.05)"><rect x="-2.45" y="-6.2" width="35.5" height="291.7" fill="url(#chk)"/></g>
<path d="M1200.75 972.55V680.85H1236.25V972.55" fill="none" stroke="#000" stroke-width="4.9" stroke-linejoin="round"/>
<path d="M1218.5 679.4V665.2M1209.5 665.2H1227.5" fill="none" stroke="#000" stroke-width="4.9" stroke-linecap="round"/>
<path d="M1218.5 974.75V983.05" stroke="#000" stroke-width="3" fill="none"/>
<path d="M1257.5 729.9H1290.1M1257.5 736.78H1290.1M1257.5 743.66H1290.1M1257.5 750.54H1290.1M1257.5 757.42H1290.1M1257.5 764.3H1290.1M1257.5 771.18H1290.1M1257.5 778.06H1290.1M1257.5 784.94H1290.1M1257.5 791.82H1290.1M1257.5 798.7H1290.1M1257.5 805.58H1290.1M1257.5 812.46H1290.1M1257.5 819.34H1290.1M1257.5 826.22H1290.1M1257.5 833.1H1290.1M1257.5 839.98H1290.1M1257.5 846.86H1290.1M1257.5 853.74H1290.1M1257.5 860.62H1290.1M1257.5 867.5H1290.1M1257.5 874.38H1290.1M1257.5 881.26H1290.1M1257.5 888.14H1290.1M1257.5 895.02H1290.1M1257.5 901.9H1290.1M1257.5 908.78H1290.1M1257.5 915.66H1290.1M1257.5 922.54H1290.1M1257.5 929.42H1290.1M1257.5 936.3H1290.1M1257.5 943.18H1290.1M1257.5 950.06H1290.1M1257.5 956.94H1290.1M1257.5 963.82H1290.1" stroke="#000" stroke-width="1.5" fill="none"/>
<path d="M1256.05 972.55V723.65H1291.55V972.55" fill="none" stroke="#000" stroke-width="4.9" stroke-linejoin="round"/>
<path d="M1273.8 722.2V693.3M1264.8 693.3H1282.8" fill="none" stroke="#000" stroke-width="4.9" stroke-linecap="round"/>
<path d="M1273.8 974.75V983.05" stroke="#000" stroke-width="3" fill="none"/>
<path d="M1319.75 771.1V972.55M1329 771.1V972.55M1338.25 771.1V972.55" stroke="#000" stroke-width="1.5" fill="none"/>
<path d="M1311.05 972.55V769.65H1346.65V972.55" fill="none" stroke="#000" stroke-width="4.9" stroke-linejoin="round"/>
<path d="M1328.85 768.2V737.4M1319.85 737.4H1337.85" fill="none" stroke="#000" stroke-width="4.9" stroke-linecap="round"/>
<path d="M1328.85 974.75V983.05" stroke="#000" stroke-width="3" fill="none"/>
<path d="M1137.1 640.9V972.55" stroke="#000" stroke-width="3" fill="none"/>
<path d="M1126 972.55H1357.5" stroke="#000" stroke-width="3" fill="none"/>
<text x="1124.7" y="981.25" font-size="24" font-weight="bold" text-anchor="end">0.0</text>
<path d="M1126.3 862.5H1137.1" stroke="#000" stroke-width="3" fill="none"/>
<text x="1124.7" y="871.2" font-size="24" font-weight="bold" text-anchor="end">0.5</text>
<path d="M1126.3 752.45H1137.1" stroke="#000" stroke-width="3" fill="none"/>
<text x="1124.7" y="761.15" font-size="24" font-weight="bold" text-anchor="end">1.0</text>
<path d="M1126.3 642.4H1137.1" stroke="#000" stroke-width="3" fill="none"/>
<text x="1124.7" y="651.1" font-size="24" font-weight="bold" text-anchor="end">1.5</text>
<text x="1163.75" y="1003.7" font-size="26" text-anchor="middle">-</text>
<text x="1219.55" y="1003.7" font-size="26" text-anchor="middle">+</text>
<text x="1275.35" y="1003.7" font-size="26" text-anchor="middle">+</text>
<text x="1331.15" y="1003.7" font-size="26" text-anchor="middle">-</text>
<text x="1163.75" y="1035.2" font-size="26" text-anchor="middle">-</text>
<text x="1219.55" y="1035.2" font-size="26" text-anchor="middle">-</text>
<text x="1275.35" y="1035.2" font-size="26" text-anchor="middle">+</text>
<text x="1331.15" y="1035.2" font-size="26" text-anchor="middle">+</text>
<text x="1143.75" y="1002" font-size="22" text-anchor="end">NaAsO<tspan font-size="13.64" dy="4.4">2</tspan><tspan dy="-4.4" dx="-1.98"> (1 uM)</tspan></text>
<text x="1143.75" y="1041" font-size="22" text-anchor="end">NAC (5 uM)</text>
<text x="1223.75" y="601" font-size="31.5" font-weight="bold" text-anchor="middle"><tspan font-family='"Liberation Serif", "DejaVu Serif", serif' font-weight="normal" font-size="36.54">β</tspan><tspan dx="2.5">-catenin</tspan></text>
<text transform="translate(1041 805.5) rotate(-90)" font-size="29" font-weight="bold" text-anchor="middle" textLength="234" lengthAdjust="spacingAndGlyphs"><tspan font-family='"Liberation Serif", "DejaVu Serif", serif' font-weight="normal">β</tspan>-Catenin/GAPDH</text>
<text x="1213.7" y="638" font-size="25" font-style="italic">a</text>
<text x="1275" y="631.75" font-size="25" font-style="italic">a,</text>
<text x="1275" y="668" font-size="25" font-style="italic">b</text>
<text x="1320" y="708" font-size="25" font-style="italic">b</text>
</g>
<g id="smad">
<rect x="1554.3" y="732.9" width="40.4" height="239.6" rx="2" fill="#000"/>
<path d="M1574.5 973.7V982" stroke="#000" stroke-width="3" fill="none"/>
<g transform="translate(1614.3 665.85)"><rect x="-2.45" y="-6.2" width="35.5" height="311.85" fill="url(#chk)"/></g>
<path d="M1611.85 971.5V659.65H1647.35V971.5" fill="none" stroke="#000" stroke-width="4.9" stroke-linejoin="round"/>
<path d="M1629.6 973.7V982" stroke="#000" stroke-width="3" fill="none"/>
<path d="M1668.1 711.7H1700.8M1668.1 718.58H1700.8M1668.1 725.46H1700.8M1668.1 732.34H1700.8M1668.1 739.22H1700.8M1668.1 746.1H1700.8M1668.1 752.98H1700.8M1668.1 759.86H1700.8M1668.1 766.74H1700.8M1668.1 773.62H1700.8M1668.1 780.5H1700.8M1668.1 787.38H1700.8M1668.1 794.26H1700.8M1668.1 801.14H1700.8M1668.1 808.02H1700.8M1668.1 814.9H1700.8M1668.1 821.78H1700.8M1668.1 828.66H1700.8M1668.1 835.54H1700.8M1668.1 842.42H1700.8M1668.1 849.3H1700.8M1668.1 856.18H1700.8M1668.1 863.06H1700.8M1668.1 869.94H1700.8M1668.1 876.82H1700.8M1668.1 883.7H1700.8M1668.1 890.58H1700.8M1668.1 897.46H1700.8M1668.1 904.34H1700.8M1668.1 911.22H1700.8M1668.1 918.1H1700.8M1668.1 924.98H1700.8M1668.1 931.86H1700.8M1668.1 938.74H1700.8M1668.1 945.62H1700.8M1668.1 952.5H1700.8M1668.1 959.38H1700.8M1668.1 966.26H1700.8" stroke="#000" stroke-width="1.5" fill="none"/>
<path d="M1666.65 971.5V705.45H1702.25V971.5" fill="none" stroke="#000" stroke-width="4.9" stroke-linejoin="round"/>
<path d="M1684.45 704V694.2M1675.45 694.2H1693.45" fill="none" stroke="#000" stroke-width="4.9" stroke-linecap="round"/>
<path d="M1684.45 973.7V982" stroke="#000" stroke-width="3" fill="none"/>
<path d="M1730.25 752V971.5M1739.5 752V971.5M1748.75 752V971.5" stroke="#000" stroke-width="1.5" fill="none"/>
<path d="M1721.55 971.5V750.55H1757.55V971.5" fill="none" stroke="#000" stroke-width="4.9" stroke-linejoin="round"/>
<path d="M1739.55 749.1V734.1M1730.55 734.1H1748.55" fill="none" stroke="#000" stroke-width="4.9" stroke-linecap="round"/>
<path d="M1739.55 973.7V982" stroke="#000" stroke-width="3" fill="none"/>
<path d="M1547.2 639.25V971.5" stroke="#000" stroke-width="3" fill="none"/>
<path d="M1536.4 972.3H1769" stroke="#000" stroke-width="3" fill="none"/>
<path d="M1549.2 970.2H1769" stroke="#b8b8b8" stroke-width="1" fill="none"/>
<text x="1534.8" y="980.2" font-size="24" font-weight="bold" text-anchor="end">0.0</text>
<path d="M1536.4 924.25H1547.2" stroke="#000" stroke-width="3" fill="none"/>
<text x="1534.8" y="932.95" font-size="24" font-weight="bold" text-anchor="end">0.2</text>
<path d="M1536.4 877H1547.2" stroke="#000" stroke-width="3" fill="none"/>
<text x="1534.8" y="885.7" font-size="24" font-weight="bold" text-anchor="end">0.4</text>
<path d="M1536.4 829.75H1547.2" stroke="#000" stroke-width="3" fill="none"/>
<text x="1534.8" y="838.45" font-size="24" font-weight="bold" text-anchor="end">0.6</text>
<path d="M1536.4 782.5H1547.2" stroke="#000" stroke-width="3" fill="none"/>
<text x="1534.8" y="791.2" font-size="24" font-weight="bold" text-anchor="end">0.8</text>
<path d="M1536.4 735.25H1547.2" stroke="#000" stroke-width="3" fill="none"/>
<text x="1534.8" y="743.95" font-size="24" font-weight="bold" text-anchor="end">1.0</text>
<path d="M1536.4 688H1547.2" stroke="#000" stroke-width="3" fill="none"/>
<text x="1534.8" y="696.7" font-size="24" font-weight="bold" text-anchor="end">1.2</text>
<path d="M1536.4 640.75H1547.2" stroke="#000" stroke-width="3" fill="none"/>
<text x="1534.8" y="649.45" font-size="24" font-weight="bold" text-anchor="end">1.4</text>
<text x="1572" y="995.2" font-size="26" text-anchor="middle">-</text>
<text x="1628" y="995.2" font-size="26" text-anchor="middle">+</text>
<text x="1684" y="995.2" font-size="26" text-anchor="middle">+</text>
<text x="1740" y="995.2" font-size="26" text-anchor="middle">-</text>
<text x="1572" y="1027.95" font-size="26" text-anchor="middle">-</text>
<text x="1628" y="1027.95" font-size="26" text-anchor="middle">-</text>
<text x="1684" y="1027.95" font-size="26" text-anchor="middle">+</text>
<text x="1740" y="1027.95" font-size="26" text-anchor="middle">+</text>
<text x="1552.5" y="995" font-size="22" text-anchor="end">NaAsO<tspan font-size="13.64" dy="4.4">2</tspan><tspan dy="-4.4" dx="-1.98"> (1 uM)</tspan></text>
<text x="1552.5" y="1035" font-size="22" text-anchor="end">NAC (5 uM)</text>
<text x="1633.25" y="600" font-size="31.5" font-weight="bold" text-anchor="middle">SMAD2/3</text>
<text transform="translate(1453 806.4) rotate(-90)" font-size="29" font-weight="bold" text-anchor="middle" textLength="230.5" lengthAdjust="spacingAndGlyphs">SMAD2/3 /GAPDH</text>
<text x="1626.2" y="638.75" font-size="25" font-style="italic">a</text>
<text x="1679.5" y="634.5" font-size="25" font-style="italic">a,</text>
<text x="1679.5" y="670.5" font-size="25" font-style="italic">b</text>
<text x="1729.5" y="693.75" font-size="25" font-style="italic">b</text>
</g>
<g id="credit" font-size="12.1" text-anchor="middle" fill="#111">
<text x="884.5" y="1060.6">From Chen HC, et al. Front Pharmacol (2022).</text>
<text x="883.5" y="1072.5">Shown under license agreement via CiteAb</text>
</g>
</svg>
</body></html>
